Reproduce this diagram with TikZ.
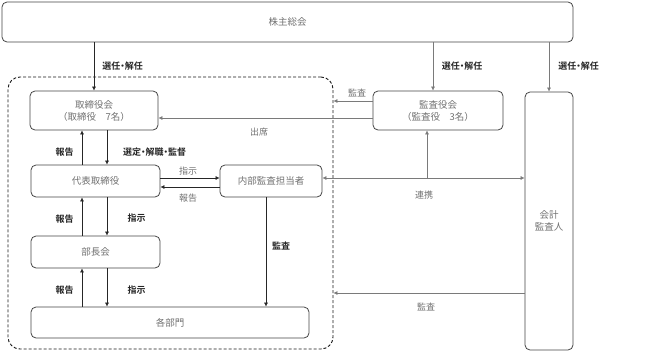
\documentclass[tikz,border=0pt]{standalone}
\usepackage{fontspec}
\setmainfont{Noto Sans CJK JP}[BoldFont={Noto Sans CJK JP Bold}]
\usetikzlibrary{arrows.meta}
\newcommand\ndot{\makebox[0.5em][c]{・}}
\definecolor{boxline}{HTML}{444444}
\definecolor{boxtext}{HTML}{707070}
\definecolor{graytext}{HTML}{707070}
\definecolor{grayline}{HTML}{7A7A7A}
\begin{document}
\begin{tikzpicture}[x=1pt,y=-1pt,
  box/.style={draw=boxline, line width=0.8pt, rounded corners=5pt, inner sep=0pt, text=boxtext, font=\fontsize{9.5}{12}\selectfont, align=center},
  arr/.style={draw=black!85, line width=0.6pt, -{Latex[length=4pt,width=4pt]}},
  garr/.style={arr, draw=grayline},
  blab/.style={font=\fontsize{9}{11}\selectfont\bfseries, text=black!85, inner sep=0pt},
  glab/.style={font=\fontsize{9}{11}\selectfont, text=graytext, inner sep=0pt}]
\useasboundingbox (0,0) rectangle (645,351);
% boxes
\node[box, minimum width=571pt, minimum height=40pt] (sh) at (287.5,22) {株主総会};
\node[draw=black!90, dash pattern=on 3pt off 2pt, line width=0.9pt, rounded corners=12pt, minimum width=325pt, minimum height=272pt, inner sep=0pt] (dash) at (170.5,213) {};
\node[box, minimum width=128pt, minimum height=39pt] (tb) at (94,110.5) {取締役会\\（取締役　7名）};
\node[box, minimum width=129pt, minimum height=32pt] (dh) at (95.5,181) {代表取締役};
\node[box, minimum width=102pt, minimum height=32pt] (nb) at (271,181) {内部監査担当者};
\node[box, minimum width=129pt, minimum height=32pt] (bc) at (95.5,252) {部長会};
\node[box, minimum width=278pt, minimum height=31pt] (kb) at (170,322.5) {各部門};
\node[box, minimum width=130pt, minimum height=39pt] (ky) at (438,110.5) {監査役会\\（監査役　3名）};
\node[box, minimum width=48pt, minimum height=258pt] (ka) at (549,221) {会計\\監査人};
% helper coordinates
\coordinate (cu) at (82,0);
\coordinate (cd) at (107,0);
\coordinate (x433) at (433,0);
\coordinate (x427) at (427,0);
\coordinate (x266) at (266,0);
\coordinate (y101) at (0,101);
\coordinate (y118) at (0,118);
\coordinate (y178) at (0,178);
\coordinate (y187) at (0,187);
\coordinate (y293) at (0,293);
% connectors
\draw[arr] (sh.south -| tb.north) -- (tb.north);
\draw[garr] (sh.south -| x433) -- (ky.north -| x433);
\draw[garr] (sh.south -| ka.north) -- (ka.north);
\draw[arr] (dh.north -| cu) -- (tb.south -| cu);
\draw[arr] (tb.south -| cd) -- (dh.north -| cd);
\draw[arr] (bc.north -| cu) -- (dh.south -| cu);
\draw[arr] (dh.south -| cd) -- (bc.north -| cd);
\draw[arr] (kb.north -| cu) -- (bc.south -| cu);
\draw[arr] (bc.south -| cd) -- (kb.north -| cd);
\draw[arr] (dh.east |- y178) -- (nb.west |- y178);
\draw[arr] (nb.west |- y187) -- (dh.east |- y187);
\draw[arr] (nb.south -| x266) -- (kb.north -| x266);
\draw[garr] (ky.west |- y101) -- (dash.east |- y101);
\draw[garr] (ky.west |- y118) -- (tb.east |- y118);
\draw[garr, {Latex[length=4pt,width=4pt]}-{Latex[length=4pt,width=4pt]}] (nb.east |- y178) -- (ka.west |- y178);
\draw[garr] (x427 |- y178) -- (ky.south -| x427);
\draw[garr] (ka.west |- y293) -- (dash.east |- y293);
% labels
\node[blab] (l1) at (122.5,66) {選任\ndot 解任};
\node[blab] (l2) at (462,66) {選任\ndot 解任};
\node[blab] (l3) at (578.5,66) {選任\ndot 解任};
\node[glab] (l4) at (357,93) {監査};
\node[glab] (l5) at (259,132) {出席};
\node[blab] (l6) at (64.5,152) {報告};
\node[blab] (l7) at (154.5,152) {選定\ndot 解職\ndot 監督};
\node[glab] (l8) at (188,171) {指示};
\node[glab] (l9) at (188,198) {報告};
\node[glab] (l10) at (424,195) {連携};
\node[blab] (l11) at (64.5,219) {報告};
\node[blab] (l12) at (136.5,218) {指示};
\node[blab] (l13) at (281,246) {監査};
\node[blab] (l14) at (64.5,290) {報告};
\node[blab] (l15) at (136.5,290) {指示};
\node[glab] (l16) at (426,307) {監査};
\end{tikzpicture}
\end{document}
